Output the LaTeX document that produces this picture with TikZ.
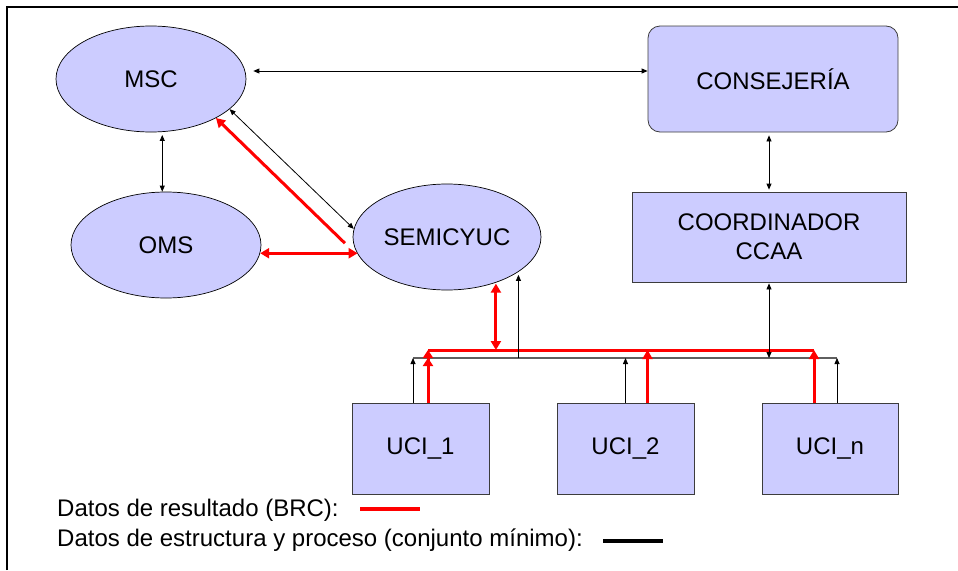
\documentclass[tikz,border=0pt]{standalone}
\usepackage{fontspec}
\setmainfont{Liberation Sans}
\usetikzlibrary{shapes.geometric,arrows.meta}
\definecolor{lav}{RGB}{204,204,255}
\definecolor{brc}{RGB}{255,0,0}
\definecolor{busgray}{RGB}{95,95,95}
\definecolor{boxline}{RGB}{60,60,60}

\begin{document}
\begin{tikzpicture}[x=1pt,y=-1pt,
	every node/.style={font=\fontsize{24}{29}\selectfont},
	org/.style={draw,ellipse,fill=lav,line width=0.7pt,minimum width=190pt,minimum height=106pt,inner sep=0pt},
	unit/.style={draw=boxline,fill=lav,line width=0.8pt,minimum width=137pt,minimum height=91pt,inner sep=0pt,align=center},
	blk/.style={black,line width=0.8pt,>={Triangle[length=6pt,width=5pt]}},
	rojo/.style={brc,line width=3pt,>={Triangle[length=9pt,width=10pt]}},
	bus/.style={busgray,line width=1.6pt}]
	\useasboundingbox (0,0) rectangle (958,570);
	\draw[line width=2.5pt] (7,570) -- (7,7) -- (958,7);

	% organismos
	\node[org] (msc) at (151,79) {MSC};
	\node[org] (oms) at (166,245) {OMS};
	\node[org,minimum width=188pt] (semi) at (447,237) {SEMICYUC};
	\node[unit,rounded corners=12pt,minimum width=250pt,minimum height=106pt] (cons) at (773,79) {CONSEJERÍA};
	\node[unit,minimum width=274pt,minimum height=90pt] (coord) at (769,237) {COORDINADOR\\CCAA};

	% unidades
	\node[unit] (uci1) at (420.5,448.5) {UCI\_1};
	\node[unit] (uci2) at (625.5,448.5) {UCI\_2};
	\node[unit,minimum width=136pt] (ucin) at (830,448.5) {UCI\_n};

	% buses
	\coordinate (busL) at (413,358);
	\coordinate (busR) at (837,358);
	\coordinate (redL) at (428,350);
	\coordinate (redR) at (814,350);
	\draw[bus] (busL) -- (busR);
	\draw[rojo] (redL) -- (redR);

	% conexiones arriba
	\draw[blk,<->,shorten <=7pt] ([yshift=8pt]msc.east) -- ([yshift=8pt]cons.west);
	\draw[blk,<->,shorten <=3pt,shorten >=2pt] (coord.north |- cons.south) -- (coord.north);
	\draw[blk,<->,shorten <=3pt] (msc.-78) -- (msc.-78 |- oms.north);
	\draw[blk,<->] (msc.-21) -- (semi.175);
	\draw[rojo,->,shorten <=22pt] (semi.194) -- (msc.-31);
	\draw[rojo,<->,shorten >=-5pt] (oms.-5) -- (oms.-5 -| semi.west);

	% conexiones con los buses
	\draw[rojo,<->,shorten <=1pt] (semi.-43) -- (semi.-43 |- redL);
	\draw[blk,->,shorten >=3pt] (semi.-26 |- busL) -- (semi.-26);
	\draw[blk,<->,shorten <=1pt] (coord.south) -- (coord.south |- busL);

	\draw[blk,->] (uci1.north -| busL) -- (busL);
	\draw[rojo,-{Triangle[length=8pt,width=10pt]Triangle[length=8pt,width=10pt]}] (uci1.north -| redL) -- (redL);
	\draw[blk,->] (uci2.north) -- (uci2.north |- busL);
	\draw[rojo,->] ([xshift=22pt]uci2.north) -- ([xshift=22pt]uci2.north |- redL);
	\draw[rojo,->] (ucin.north -| redR) -- (redR);
	\draw[blk,->] (ucin.north -| busR) -- (busR);

	% leyenda
	\node[anchor=base west,inner sep=0pt] (leg1) at (57,516) {Datos de resultado (BRC):};
	\node[anchor=base west,inner sep=0pt] (leg2) at (57,546) {Datos de estructura y proceso (conjunto mínimo):};
	\draw[brc,line width=4pt] (360,509) -- (420,509);
	\draw[black,line width=4pt] (603,541) -- (663,541);
\end{tikzpicture}
\end{document}
